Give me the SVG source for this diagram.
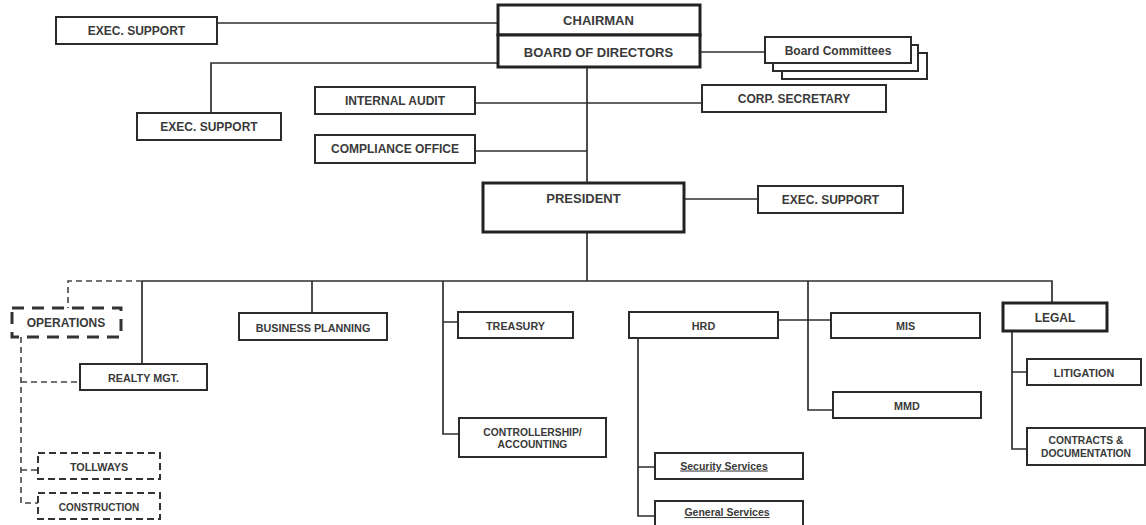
<svg xmlns="http://www.w3.org/2000/svg" width="1146" height="525" viewBox="0 0 1146 525">
<style>
.box{fill:#fff;stroke:#2b2b2b;stroke-width:2}
.bx{fill:#fff;stroke:#222;stroke-width:3}
.dbox{fill:#fff;stroke:#333;stroke-width:2;stroke-dasharray:7 4}
.obox{fill:#fff;stroke:#333;stroke-width:3;stroke-dasharray:12 8}
.ln{fill:none;stroke:#2e2e2e;stroke-width:1.7}
.dl{fill:none;stroke:#444;stroke-width:1.6;stroke-dasharray:6 4}
text{font-family:"Liberation Sans",Arial,sans-serif;font-weight:bold;fill:#3a3a3a;text-anchor:middle}
.t12{font-size:12px}
.t11{font-size:10.8px}
.t13{font-size:13px}
.u{text-decoration:underline;font-size:10.5px}
</style>
<rect width="1146" height="525" fill="#fff"/>
<g id="connectors">
<path class="ln" d="M217,23 H500"/>
<path class="ln" d="M500,63 H211 V113"/>
<path class="ln" d="M700,52 H765"/>
<path class="ln" d="M587,67 V183"/>
<path class="ln" d="M475,103 H702"/>
<path class="ln" d="M475,151 H587"/>
<path class="ln" d="M684,199 H758"/>
<path class="ln" d="M587,232 V281"/>
<path class="ln" d="M142,281 H1052 V303"/>
<path class="ln" d="M142,281 V364"/>
<path class="ln" d="M312,281 V313"/>
<path class="ln" d="M443,281 V434 H459 M443,322 H458"/>
<path class="ln" d="M808,281 V410 H833 M778,320 H831"/>
<path class="ln" d="M638,338 V516 H655 M638,467 H655"/>
<path class="ln" d="M1012,331 V449 H1027 M1012,372 H1027"/>
<path class="dl" d="M142,281 H68 V308"/>
<path class="dl" d="M21,337 V503 H38"/>
<path class="dl" d="M21,382 H80"/>
<path class="dl" d="M21,470 H38"/>
</g>
<g id="exec1"><rect class="box" x="56" y="17" width="161" height="27"/><text class="t12" x="136.5" y="34.5">EXEC. SUPPORT</text></g>
<g id="chairman"><rect class="bx" x="498" y="5" width="202" height="30"/><text class="t13" x="598.5" y="25">CHAIRMAN</text></g>
<g id="board"><rect class="bx" x="498" y="35" width="202" height="32"/><text class="t13" x="598.5" y="56.5">BOARD OF DIRECTORS</text></g>
<g id="committees">
<rect class="box" x="782" y="53" width="145" height="26"/>
<rect class="box" x="773" y="45" width="145" height="26"/>
<rect class="box" x="765" y="37" width="146" height="26"/>
<text x="838" y="54.5" style="font-size:12px">Board Committees</text>
</g>
<g id="exec2"><rect class="box" x="137" y="113" width="144" height="27"/><text class="t12" x="209" y="131">EXEC. SUPPORT</text></g>
<g id="audit"><rect class="box" x="315" y="87" width="160" height="27"/><text class="t12" x="395" y="105">INTERNAL AUDIT</text></g>
<g id="corpsec"><rect class="box" x="702" y="85" width="184" height="27"/><text class="t12" x="794" y="103">CORP. SECRETARY</text></g>
<g id="compliance"><rect class="box" x="315" y="135" width="160" height="28"/><text class="t12" x="395" y="153">COMPLIANCE OFFICE</text></g>
<g id="president"><rect class="bx" x="483" y="183" width="201" height="49"/><text class="t13" x="583.5" y="202.5">PRESIDENT</text></g>
<g id="exec3"><rect class="box" x="758" y="186" width="145" height="27"/><text class="t12" x="830.5" y="204">EXEC. SUPPORT</text></g>
<g id="operations"><rect class="obox" x="12" y="308" width="109" height="29"/><text class="t12" x="66" y="327">OPERATIONS</text></g>
<g id="realty"><rect class="box" x="80" y="364" width="127" height="26"/><text class="t11" x="143.5" y="381.5">REALTY MGT.</text></g>
<g id="tollways"><rect class="dbox" x="38" y="453" width="122" height="26"/><text class="t11" x="99" y="471">TOLLWAYS</text></g>
<g id="construction"><rect class="dbox" x="38" y="493" width="122" height="26"/><text class="t11" x="99" y="511" style="font-size:10px">CONSTRUCTION</text></g>
<g id="bizplan"><rect class="box" x="239" y="313" width="148" height="27"/><text class="t11" x="313" y="331.5">BUSINESS PLANNING</text></g>
<g id="treasury"><rect class="box" x="458" y="312" width="115" height="26"/><text class="t11" x="515.5" y="330">TREASURY</text></g>
<g id="controller"><rect class="box" x="459" y="418" width="147" height="39"/><text class="t11" x="532.5" y="435.5" style="font-size:10.3px">CONTROLLERSHIP/</text><text class="t11" x="532.5" y="447.5" style="font-size:10.3px">ACCOUNTING</text></g>
<g id="hrd"><rect class="box" x="629" y="312" width="149" height="26"/><text class="t11" x="703.5" y="329.5">HRD</text></g>
<g id="security"><rect class="box" x="655" y="453" width="148" height="26"/><text class="u" x="724" y="469.5">Security Services</text></g>
<g id="general"><rect class="box" x="655" y="501" width="148" height="26"/><text class="u" x="727" y="516">General Services</text></g>
<g id="mis"><rect class="box" x="831" y="313" width="149" height="25"/><text class="t11" x="905.5" y="330">MIS</text></g>
<g id="mmd"><rect class="box" x="833" y="392" width="148" height="26"/><text class="t11" x="907" y="409.5">MMD</text></g>
<g id="legal"><rect class="bx" x="1003" y="303" width="104" height="28"/><text class="t12" x="1055" y="322">LEGAL</text></g>
<g id="litigation"><rect class="box" x="1027" y="359" width="114" height="26"/><text class="t11" x="1084" y="376.5">LITIGATION</text></g>
<g id="contracts"><rect class="box" x="1027" y="428" width="118" height="37"/><text class="t11" x="1086" y="443.5" style="font-size:10.3px">CONTRACTS &amp;</text><text class="t11" x="1086" y="456.5" style="font-size:10.3px">DOCUMENTATION</text></g>
</svg>
